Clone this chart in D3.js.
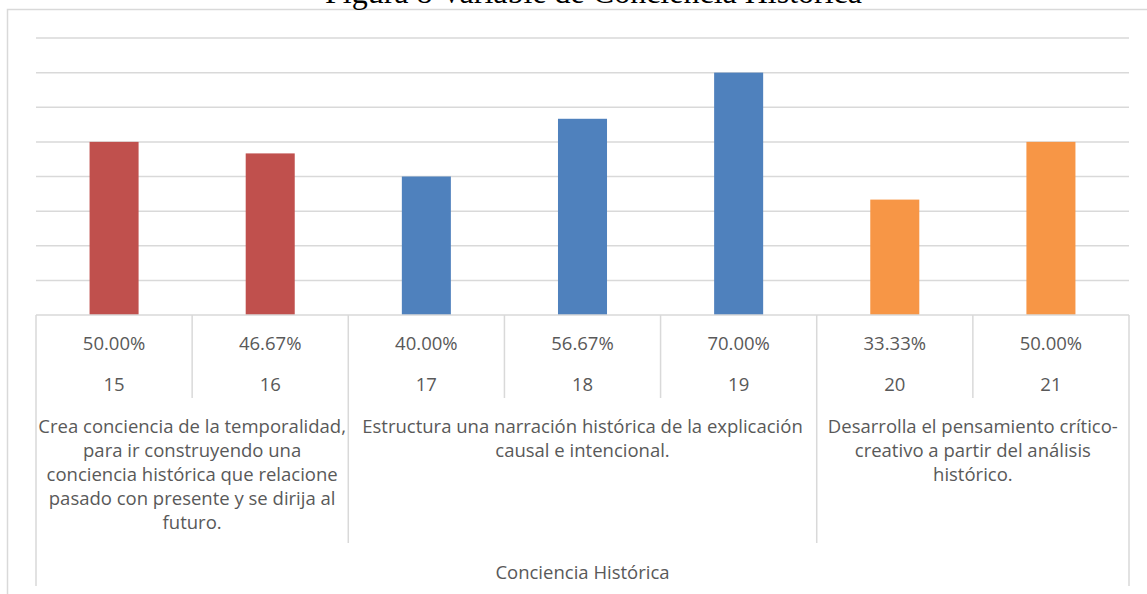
<!DOCTYPE html>
<html><head><meta charset="utf-8">
<script src="https://cdn.jsdelivr.net/npm/d3@7"></script>
<style>html,body{margin:0;padding:0;background:#fff;overflow:hidden}</style>
</head><body>
<svg id="c" width="1147" height="594"></svg>
<script>
const title = "Figura 8 Variable de Conciencia Histórica";
const ids = ["15","16","17","18","19","20","21"];
const values = [0.5, 0.4667, 0.4, 0.5667, 0.7, 0.3333, 0.5];
const valueLabels = ["50.00%","46.67%","40.00%","56.67%","70.00%","33.33%","50.00%"];
const groupOf = [0,0,1,1,1,2,2];
const groups = [
  ["Crea conciencia de la temporalidad,","para ir construyendo una","conciencia histórica que relacione","pasado con presente y se dirija al","futuro."],
  ["Estructura una narración histórica de la explicación","causal e intencional."],
  ["Desarrolla el pensamiento crítico-","creativo a partir del análisis","histórico."]
];
const groupColors = ["#C0504D","#4F81BD","#F79646"];
const axisTitle = "Conciencia Histórica";
const yTicks = [0,0.1,0.2,0.3,0.4,0.5,0.6,0.7,0.8];

const svg = d3.select("#c");
const grid = "#D9D9D9", txt = "#595959";
const font = "'Open Sans', sans-serif";

// outer chart border
svg.append("rect").attr("x",7.5).attr("y",9.5).attr("width",1160).attr("height",620)
  .attr("fill","none").attr("stroke",grid).attr("stroke-width",1.5);

svg.append("text").attr("x",325).attr("y",3).attr("font-family","'Liberation Serif', 'Times New Roman', serif")
  .attr("font-size",32).attr("fill","#000").text(title);

const L = 36, R = 1129, base = 315;
const x = d3.scaleBand().domain(ids).range([L,R]).padding(0);
const y = d3.scaleLinear().domain([0,0.8]).range([base,38]);

svg.append("g").selectAll("line").data(yTicks.slice(1)).join("line")
  .attr("x1",L).attr("x2",R).attr("y1",d=>y(d)).attr("y2",d=>y(d))
  .attr("stroke",grid).attr("stroke-width",1.5);

const bw = x.bandwidth()*0.314;
svg.append("g").selectAll("rect").data(ids).join("rect")
  .attr("x",(d,i)=>x(d)+(x.bandwidth()-bw)/2).attr("width",bw)
  .attr("y",(d,i)=>y(values[i])).attr("height",(d,i)=>base-y(values[i]))
  .attr("fill",(d,i)=>groupColors[groupOf[i]]);

// table lines
const tl = svg.append("g").attr("stroke",grid).attr("stroke-width",1.5);
tl.append("line").attr("x1",L).attr("x2",R).attr("y1",base).attr("y2",base);
tl.append("line").attr("x1",L).attr("x2",L).attr("y1",base).attr("y2",586);
tl.append("line").attr("x1",R).attr("x2",R).attr("y1",base).attr("y2",586);
ids.forEach((d,i)=>{
  if(i===0) return;
  const gb = groupOf[i]!==groupOf[i-1];
  tl.append("line").attr("x1",x(d)).attr("x2",x(d)).attr("y1",base).attr("y2",gb?543:398);
});

const tg = svg.append("g").attr("font-family",font).attr("font-size",18.5).attr("fill",txt).attr("text-anchor","middle");
ids.forEach((d,i)=>{
  const cx = x(d)+x.bandwidth()/2;
  tg.append("text").attr("x",cx).attr("y",350).text(valueLabels[i]);
  tg.append("text").attr("x",cx).attr("y",391).text(d);
});
groups.forEach((lines,g)=>{
  const mem = ids.filter((d,i)=>groupOf[i]===g);
  const x0 = x(mem[0]), x1 = x(mem[mem.length-1])+x.bandwidth();
  lines.forEach((ln,k)=>{
    tg.append("text").attr("x",(x0+x1)/2).attr("y",433+k*24).text(ln);
  });
});
tg.append("text").attr("x",(L+R)/2).attr("y",579).text(axisTitle);
</script>
</body></html>
